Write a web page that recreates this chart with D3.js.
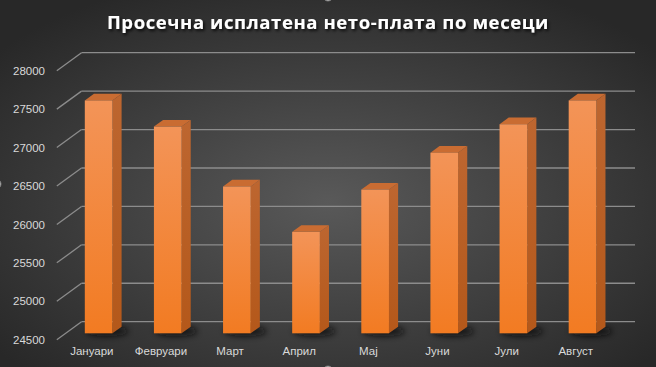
<!DOCTYPE html>
<html>
<head>
<meta charset="utf-8">
<script src="https://cdn.jsdelivr.net/npm/d3@7"></script>
<style>
  html, body { margin: 0; padding: 0; background: #2b2b2b; }
  svg { display: block; }
</style>
</head>
<body>
<div id="chart"></div>
<script>
// ---- Data ----
const categories = ["Јануари", "Февруари", "Март", "Април", "Мај", "Јуни", "Јули", "Август"];
const values = [27530, 27190, 26410, 25820, 26370, 26850, 27220, 27530];
const yTicks = [24500, 25000, 25500, 26000, 26500, 27000, 27500, 28000];
const title = "Просечна исплатена нето-плата по месеци";

// ---- Layout ----
const W = 656, H = 367;
const depth = { dx: -24.7, dy: 18 };   // vector from back wall to front edge of floor
const fFront = 0.645, fBack = 0.275;   // bar front/back plane positions (fraction of depth)

const svg = d3.select("#chart").append("svg").attr("width", W).attr("height", H);
const defs = svg.append("defs");

const bg = defs.append("radialGradient").attr("id", "bg")
  .attr("cx", "50%").attr("cy", "55%").attr("r", "65%");
bg.append("stop").attr("offset", "0%").attr("stop-color", "#595959");
bg.append("stop").attr("offset", "100%").attr("stop-color", "#282828");

const gFront = defs.append("linearGradient").attr("id", "gFront").attr("x1", 0).attr("y1", 0).attr("x2", 0).attr("y2", 1);
gFront.append("stop").attr("offset", "0%").attr("stop-color", "#f39458");
gFront.append("stop").attr("offset", "100%").attr("stop-color", "#f27b22");
const gSide = defs.append("linearGradient").attr("id", "gSide").attr("x1", 0).attr("y1", 0).attr("x2", 0).attr("y2", 1);
gSide.append("stop").attr("offset", "0%").attr("stop-color", "#bd6630");
gSide.append("stop").attr("offset", "100%").attr("stop-color", "#b4581a");

const blur = defs.append("filter").attr("id", "blur").attr("x", "-50%").attr("y", "-100%").attr("width", "200%").attr("height", "300%");
blur.append("feGaussianBlur").attr("stdDeviation", 3);

const tshadow = defs.append("filter").attr("id", "tshadow").attr("x", "-10%").attr("y", "-50%").attr("width", "120%").attr("height", "200%");
tshadow.append("feDropShadow").attr("dx", 1.5).attr("dy", 2).attr("stdDeviation", 1.5).attr("flood-color", "#000").attr("flood-opacity", 0.8);

svg.append("rect").attr("width", W).attr("height", H).attr("fill", "url(#bg)");

// ---- Scales ----
const x = d3.scaleBand().domain(categories).range([80, 633]).paddingInner(0.6).paddingOuter(0.3);
const y = d3.scaleLinear().domain([24500, 28000]).range([321.7, 52.7]);
const xWall = [81.5, 635];

// ---- Gridlines (back wall + side wall diagonals) ----
const grid = svg.append("g");
yTicks.forEach(t => {
  grid.append("line")
    .attr("x1", xWall[0]).attr("x2", xWall[1])
    .attr("y1", y(t)).attr("y2", y(t))
    .attr("stroke", "#8c8c8c").attr("stroke-width", 1.3);
  grid.append("line")
    .attr("x1", xWall[0]).attr("y1", y(t))
    .attr("x2", xWall[0] + depth.dx).attr("y2", y(t) + depth.dy)
    .attr("stroke", "#8c8c8c").attr("stroke-width", 1.3);
});

// ---- Y axis labels ----
const yAxis = d3.axisLeft(y).tickValues(yTicks).tickSize(0).tickPadding(0).tickFormat(d3.format("d"));
const yg = svg.append("g").attr("transform", `translate(45,${depth.dy})`).call(yAxis);
yg.select(".domain").remove();
yg.selectAll("text").attr("fill", "#d9d9d9").attr("font-family", "Liberation Sans, Arial, sans-serif").attr("font-size", 11.5);

// ---- Bars ----
const bw = x.bandwidth();
const base = 24500;
const bars = svg.append("g");
categories.forEach((c, i) => {
  const v = values[i];
  const xb = x(c);
  const fx = depth.dx * fFront, fy = depth.dy * fFront;
  const bx = depth.dx * fBack, by = depth.dy * fBack;
  const x0f = xb + fx, x1f = xb + bw + fx;
  const x0b = xb + bx, x1b = xb + bw + bx;
  const ytf = y(v) + fy, ybf = y(base) + fy;
  const ytb = y(v) + by, ybb = y(base) + by;

  bars.append("ellipse")
    .attr("cx", (x0f + x1b) / 2 + 4).attr("cy", ybf - 2)
    .attr("rx", bw * 0.75).attr("ry", 5)
    .attr("fill", "#111").attr("opacity", 0.85).attr("filter", "url(#blur)");

  bars.append("polygon")
    .attr("points", [[x1f, ytf], [x1b, ytb], [x1b, ybb], [x1f, ybf]].map(p => p.join(",")).join(" "))
    .attr("fill", "url(#gSide)");
  bars.append("polygon")
    .attr("points", [[x0f, ytf], [x1f, ytf], [x1b, ytb], [x0b, ytb]].map(p => p.join(",")).join(" "))
    .attr("fill", "#c96c32");
  bars.append("rect")
    .attr("x", x0f).attr("y", ytf).attr("width", bw).attr("height", ybf - ytf)
    .attr("fill", "url(#gFront)");
});

// ---- X axis labels ----
const xAxis = d3.axisBottom(x).tickSize(0).tickPadding(0);
const xg = svg.append("g").attr("transform", `translate(${depth.dx + 2},347)`).call(xAxis);
xg.select(".domain").remove();
xg.selectAll("text").attr("fill", "#d9d9d9").attr("font-family", "Liberation Sans, Arial, sans-serif").attr("font-size", 11.5);

// ---- Title ----
svg.append("text")
  .attr("x", 328).attr("y", 29)
  .attr("text-anchor", "middle")
  .attr("fill", "#ffffff")
  .attr("font-family", "Open Sans, Liberation Sans, sans-serif")
  .attr("font-weight", "bold")
  .attr("font-size", 18.5)
  .attr("letter-spacing", 0.6)
  .attr("filter", "url(#tshadow)")
  .text(title);

// ---- selection handles partially visible ----
[[328, -4], [-4, 184], [328, 371]].forEach(p => {
  svg.append("circle").attr("cx", p[0]).attr("cy", p[1]).attr("r", 5)
    .attr("fill", "#e0e0e0").attr("stroke", "#777");
});
</script>
</body>
</html>
